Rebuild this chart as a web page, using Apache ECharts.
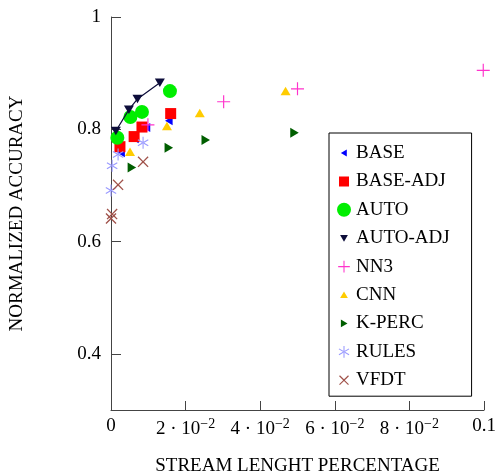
<!DOCTYPE html>
<html>
<head>
<meta charset="utf-8">
<script src="https://cdn.jsdelivr.net/npm/echarts@6/dist/echarts.min.js"></script>
<style>html,body{margin:0;padding:0;background:#fff}#c{width:500px;height:475px}</style>
</head>
<body>
<div id="c"></div>
<script>
// ---- data ----
const seriesNames = ['BASE','BASE-ADJ','AUTO','AUTO-ADJ','NN3','CNN','K-PERC','RULES','VFDT'];
const baseX = [0.0027, 0.0064, 0.0095, 0.0155];
const baseY = [0.758, 0.783, 0.803, 0.815];
const baseAdjX = [0.0024, 0.0062, 0.0083, 0.0160];
const baseAdjY = [0.769, 0.787, 0.804, 0.828];
const autoX = [0.0017, 0.0052, 0.0083, 0.0158];
const autoY = [0.785, 0.822, 0.831, 0.868];
const autoAdjX = [0.0013, 0.0048, 0.0071, 0.0131];
const autoAdjY = [0.797, 0.835, 0.854, 0.883];
const nn3X = [0.0099, 0.0302, 0.0500, 0.0998];
const nn3Y = [0.808, 0.849, 0.872, 0.905];
const cnnX = [0.0051, 0.0150, 0.0238, 0.0468];
const cnnY = [0.760, 0.806, 0.829, 0.868];
const kpercX = [0.0056, 0.0155, 0.0254, 0.0492];
const kpercY = [0.732, 0.767, 0.781, 0.794];
const rulesX = [0.0000, 0.0003, 0.0019, 0.0086];
const rulesY = [0.691, 0.735, 0.755, 0.776];
const vfdtX = [0.0000, 0.0003, 0.0019, 0.0086];
const vfdtY = [0.641, 0.649, 0.701, 0.742];
const xTicks = [0, 0.02, 0.04, 0.06, 0.08, 0.1];
const yTicks = [0.4, 0.6, 0.8, 1];

// ---- symbols ----
const S = {
  triUp: 'path://M0,-9 L10,8 L-10,8 Z',
  triDown: 'path://M-10,-8 L10,-8 L0,9 Z',
  triLeft: 'path://M-9,0 L8,-10 L8,10 Z',
  triRight: 'path://M9,0 L-8,-10 L-8,10 Z',
  square: 'path://M-10,-10 L10,-10 L10,10 L-10,10 Z',
  plus: 'path://M-0.9,-10 L0.9,-10 L0.9,-0.9 L10,-0.9 L10,0.9 L0.9,0.9 L0.9,10 L-0.9,10 L-0.9,0.9 L-10,0.9 L-10,-0.9 L-0.9,-0.9 Z',
  cross: 'path://M-7.7,-6.4 L-6.4,-7.7 L0,-1.3 L6.4,-7.7 L7.7,-6.4 L1.3,0 L7.7,6.4 L6.4,7.7 L0,1.3 L-6.4,7.7 L-7.7,6.4 L-1.3,0 Z',
  asterisk: 'path://M-0.9,-10 L0.9,-10 L0.9,10 L-0.9,10 Z M8.21,5.78 L9.11,4.22 L-8.21,-5.78 L-9.11,-4.22 Z M-9.11,4.22 L-8.21,5.78 L9.11,-4.22 L8.21,-5.78 Z'
};
function pad(p, r) { return p + ' M' + (-r) + ',' + (-r) + ' Z M' + r + ',' + r + ' Z'; }

function zip(xs, ys) { return xs.map((x, i) => [x, ys[i]]); }

const serif = '"Liberation Serif", "Times New Roman", serif';
const chart = echarts.init(document.getElementById('c'), null, {renderer: 'canvas'});

function sc(name, xs, ys, symbol, size, color) {
  return { name: name, type: 'scatter', data: zip(xs, ys), symbol: symbol, symbolSize: size,
    symbolKeepAspect: true, itemStyle: { color: color, opacity: 1 }, emphasis: { disabled: true } };
}

const colors = {
  base: '#0000ff', baseAdj: '#ff0000', auto: '#00ee00', autoAdj: '#0d0d3a',
  nn3: '#ff33cc', cnn: '#ffcc00', kperc: '#005e00', rules: '#9999ff', vfdt: '#a0524a'
};

chart.setOption({
  animation: false,
  backgroundColor: '#fff',
  grid: { left: 111, top: 17, right: 16, bottom: 65, containLabel: false, outerBoundsMode: 'none' },
  xAxis: {
    type: 'value', min: 0, max: 0.1, interval: 0.02,
    name: 'STREAM LENGHT PERCENTAGE', nameLocation: 'middle', nameGap: 47,
    nameTextStyle: { fontFamily: serif, fontSize: 19, color: '#000' },
    axisLine: { show: true, onZero: false, lineStyle: { color: '#444', width: 1 } },
    axisTick: { show: true, inside: true, length: 9, lineStyle: { color: '#444', width: 1 } },
    splitLine: { show: false },
    axisLabel: {
      margin: 7, color: '#000', fontFamily: serif, fontSize: 19,
      formatter: function (v) {
        const k = Math.round(v * 100);
        if (k === 0) return '0';
        if (k === 10) return '0.1';
        return '{b|' + k + ' · 10}{s|−2}';
      },
      rich: {
        b: { fontFamily: serif, fontSize: 19, color: '#000' },
        s: { fontFamily: serif, fontSize: 14, color: '#000', padding: [0, 0, 10, 0] }
      }
    }
  },
  yAxis: {
    type: 'value', min: 0.3, max: 1,
    name: 'NORMALIZED ACCURACY', nameLocation: 'middle', nameGap: 84,
    nameTextStyle: { fontFamily: serif, fontSize: 19, color: '#000' },
    axisLine: { show: true, onZero: false, lineStyle: { color: '#444', width: 1 } },
    axisTick: { show: true, inside: true, length: 10, customValues: yTicks, lineStyle: { color: '#444', width: 1 } },
    splitLine: { show: false },
    axisLabel: {
      customValues: yTicks, margin: 10, color: '#000', fontFamily: serif, fontSize: 19,
      formatter: function (v) { return v === 1 ? '1' : String(Math.round(v * 10) / 10); }
    }
  },
  legend: {
    orient: 'vertical', left: 329, top: 133,
    backgroundColor: '#fff', borderColor: '#000', borderWidth: 1, borderRadius: 0,
    padding: [10, 22, 6, 8], itemGap: 8.4, itemWidth: 14, itemHeight: 14,
    textStyle: { fontFamily: serif, fontSize: 19, color: '#000', lineHeight: 20 },
    selectedMode: false,
    data: [
      { name: 'BASE', icon: pad(S.triLeft, 20) },
      { name: 'BASE-ADJ', icon: pad(S.square, 14) },
      { name: 'AUTO', icon: 'circle' },
      { name: 'AUTO-ADJ', icon: pad(S.triDown, 18) },
      { name: 'NN3', icon: pad(S.plus, 12) },
      { name: 'CNN', icon: pad(S.triUp, 18) },
      { name: 'K-PERC', icon: pad(S.triRight, 18) },
      { name: 'RULES', icon: pad(S.asterisk, 12) },
      { name: 'VFDT', icon: pad(S.cross, 11) }
    ]
  },
  series: [
    sc('BASE', baseX, baseY, S.triLeft, 9, colors.base),
    sc('BASE-ADJ', baseAdjX, baseAdjY, S.square, 11, colors.baseAdj),
    sc('AUTO', autoX, autoY, 'circle', 14, colors.auto),
    { name: 'AUTO-ADJ-line', type: 'line', data: zip(autoAdjX, autoAdjY), symbol: 'none',
      lineStyle: { color: colors.autoAdj, width: 1.2 }, emphasis: { disabled: true } },
    sc('AUTO-ADJ', autoAdjX, autoAdjY, S.triDown, 10, colors.autoAdj),
    sc('NN3', nn3X, nn3Y, S.plus, 13, colors.nn3),
    sc('CNN', cnnX, cnnY, S.triUp, 10, colors.cnn),
    sc('K-PERC', kpercX, kpercY, S.triRight, 10, colors.kperc),
    sc('RULES', rulesX, rulesY, S.asterisk, 12, colors.rules),
    sc('VFDT', vfdtX, vfdtY, S.cross, 11, colors.vfdt)
  ]
});
</script>
</body>
</html>
